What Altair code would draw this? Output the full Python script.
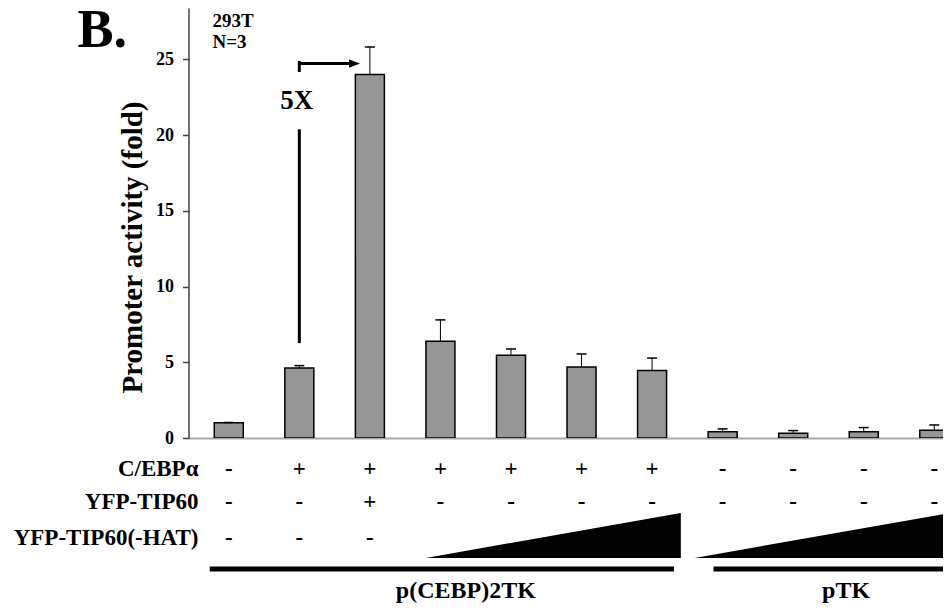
import altair as alt
import pandas as pd

# ---- data ----
conditions = list(range(11))
values = [1.0, 4.62, 24.0, 6.39, 5.46, 4.69, 4.45, 0.42, 0.31, 0.42, 0.51]
err_top = [1.03, 4.78, 25.83, 7.80, 5.88, 5.55, 5.28, 0.60, 0.49, 0.69, 0.86]
cebpa = ["-", "+", "+", "+", "+", "+", "+", "-", "-", "-", "-"]
tip60 = ["-", "-", "+", "-", "-", "-", "-", "-", "-", "-", "-"]
tip60_hat = ["-", "-", "-", "", "", "", "", "", "", "", ""]
row_labels = ["C/EBPα", "YFP-TIP60", "YFP-TIP60(-HAT)"]
group_labels = ["p(CEBP)2TK", "pTK"]
y_ticks = [0, 5, 10, 15, 20, 25]

FONT = "Liberation Serif"
STEP = 71.5
PAD_L = 180.5
W, H = 935 - PAD_L, 430

df = pd.DataFrame({"idx": conditions, "value": values, "err": err_top})

xs = alt.Scale(domain=[-0.5, -0.5 + W / STEP], nice=False, zero=False)
ys = alt.Scale(domain=[0, 28.4], nice=False, zero=True)

base = alt.Chart(df)

bars = base.mark_bar(size=29, color="#969696", stroke="black", strokeWidth=1.5, clip=True).encode(
    x=alt.X("idx:Q", scale=xs,
            axis=alt.Axis(labels=False, ticks=False, grid=False, title=None,
                          domainColor="#a8a8a8", domainWidth=2)),
    y=alt.Y("value:Q", scale=ys,
            axis=alt.Axis(values=y_ticks, grid=False, domainColor="#404040", domainWidth=1.5,
                          tickColor="#404040", tickSize=6, tickWidth=1.5,
                          labelFont=FONT, labelFontWeight="bold", labelFontSize=18,
                          labelColor="black", labelPadding=9,
                          title="Promoter activity (fold)", titleFont=FONT,
                          titleFontSize=29, titleFontWeight="bold", titleColor="black",
                          titleAngle=270, titleX=-56, titleY=239,
                          titleAlign="center", titleBaseline="middle")),
)

err = base.mark_rule(color="black", strokeWidth=1, clip=True).encode(
    x="idx:Q", y="value:Q", y2="err:Q")
caps = base.mark_tick(orient="horizontal", size=10, thickness=1.5, color="black",
                      opacity=1, clip=True).encode(x="idx:Q", y="err:Q")

# 5X annotation (arrow)
seg = pd.DataFrame({"x": [1, 1, 1], "x2": [1, 1, 1.74],
                    "y": [6.27, 24.17, 24.73], "y2": [20.39, 24.9, 24.73]})
arrow_lines = alt.Chart(seg).mark_rule(color="black", strokeWidth=3).encode(
    x="x:Q", x2="x2:Q", y="y:Q", y2="y2:Q")
head = alt.Chart(pd.DataFrame({"x": [1.783], "y": [24.73]})).mark_point(
    shape="M -1 -0.75 L 1 0 L -1 0.75 Z", size=121, filled=True, color="black",
    opacity=1, strokeWidth=0).encode(x="x:Q", y="y:Q")
fivex = alt.Chart(pd.DataFrame({"x": [0.965], "y": [22.24], "t": ["5X"]})).mark_text(
    font=FONT, fontWeight="bold", fontSize=27, color="black", baseline="middle").encode(
    x="x:Q", y="y:Q", text="t:N")

layers = [bars, err, caps, arrow_lines, head, fivex]

# panel letter and cell-line text
def ptext(t, x, y, size, align="left", baseline="alphabetic"):
    return alt.Chart(pd.DataFrame({"t": [t]})).mark_text(
        font=FONT, fontWeight="bold", fontSize=size, color="black",
        align=align, baseline=baseline).encode(
        x=alt.value(x), y=alt.value(y), text="t:N")

layers.append(ptext("B.", -111, 39, 54))
layers.append(ptext("293T", 24, 18.5, 19))
layers.append(ptext("N=3", 24, 39.5, 19))

# rows of +/- signs below the axis
row_y = [468, 500.5, 537]
for label, signs, yy in zip(row_labels, [cebpa, tip60, tip60_hat], row_y):
    layers.append(ptext(label, 10, yy, 23, align="right"))
    sd = pd.DataFrame({"idx": conditions, "s": signs})
    sd = sd[sd["s"] != ""]
    layers.append(alt.Chart(sd).mark_text(
        font=FONT, fontWeight="bold", fontSize=23, color="black", align="center",
        baseline="alphabetic").encode(
        x="idx:Q", y=alt.value(yy), text="s:N"))

# dose wedges
wedges = pd.DataFrame({"x": [4.60, 8.41]})
layers.append(alt.Chart(wedges).mark_point(
    shape="M -1 0.176 L 1 -0.176 L 1 0.176 Z", size=255 ** 2, filled=True,
    color="black", opacity=1, strokeWidth=0).encode(
    x="x:Q", y=alt.value(527.5)))

# group bars and labels
groups = pd.DataFrame({"x": [-0.27, 6.87], "x2": [6.31, 10.6]})
layers.append(alt.Chart(groups).mark_rule(color="black", strokeWidth=5).encode(
    x="x:Q", x2="x2:Q", y=alt.value(561)))
gl = pd.DataFrame({"x": [3.36, 8.75], "t": group_labels})
layers.append(alt.Chart(gl).mark_text(
    font=FONT, fontWeight="bold", fontSize=24, color="black", align="center",
    baseline="alphabetic").encode(
    x="x:Q", y=alt.value(590), text="t:N"))

chart = alt.layer(*layers).properties(
    width=W, height=H,
    autosize=alt.AutoSizeParams(type="none"),
    padding={"left": PAD_L, "top": 0, "right": 0, "bottom": 167},
).configure_view(stroke=None)

chart.save("out.html", embed_options={"renderer": "svg", "actions": False})
